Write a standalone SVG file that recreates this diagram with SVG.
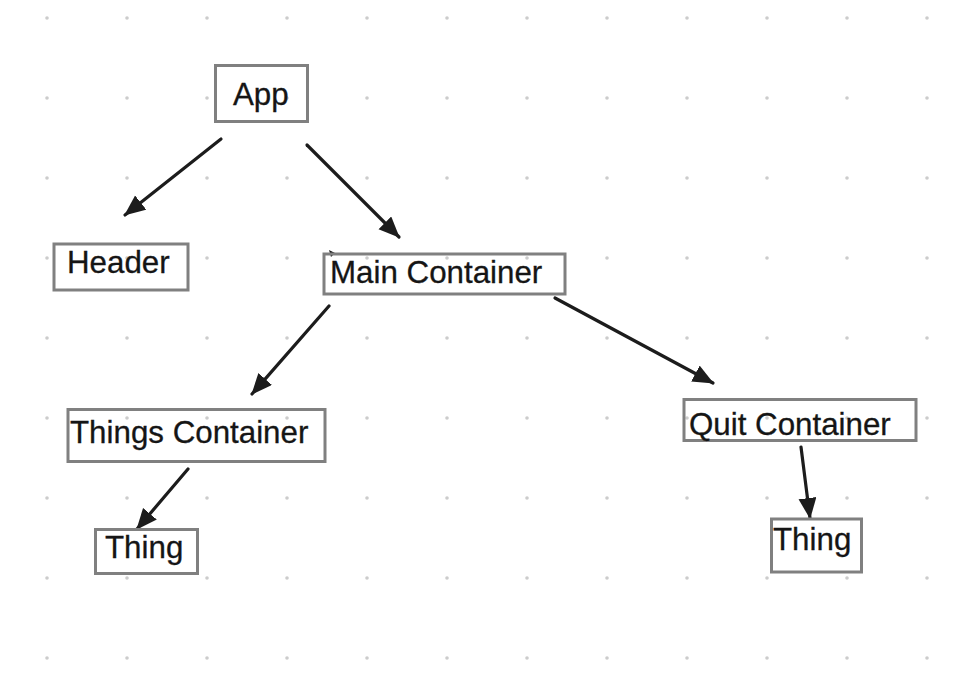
<svg xmlns="http://www.w3.org/2000/svg" width="968" height="686" viewBox="0 0 968 686">
<style>
.box{fill:none;stroke:#808080;stroke-width:3}
.lbl{font-family:"Liberation Sans",Arial,Helvetica,sans-serif;font-size:31.3px;fill:#151515;stroke:#151515;stroke-width:0.3}
.edge{stroke:#1c1c1c;stroke-width:3.2;fill:none;stroke-linecap:round}
</style>
<defs>
<pattern id="dots" patternUnits="userSpaceOnUse" x="7" y="-22" width="80" height="80">
<circle cx="40" cy="40" r="1.8" fill="#cccccc"/>
</pattern>
<marker id="arr" markerUnits="userSpaceOnUse" markerWidth="24" markerHeight="20" refX="20" refY="9" orient="auto">
<path d="M0,0 L21,9 L0,18 Z" fill="#1c1c1c"/>
</marker>
</defs>
<rect width="968" height="686" fill="#ffffff"/>
<rect width="968" height="686" fill="url(#dots)"/>
<g id="connectors">
<line class="edge" x1="221" y1="139" x2="125" y2="215" marker-end="url(#arr)"/>
<line class="edge" x1="307" y1="145" x2="399" y2="237" marker-end="url(#arr)"/>
<line class="edge" x1="329" y1="306" x2="252" y2="394" marker-end="url(#arr)"/>
<line class="edge" x1="555" y1="298" x2="713" y2="383" marker-end="url(#arr)"/>
<line class="edge" x1="188" y1="469" x2="137" y2="529" marker-end="url(#arr)"/>
<line class="edge" x1="801" y1="447" x2="810" y2="518" marker-end="url(#arr)"/>
<path d="M329,250 L335,253 L331,257 Z" fill="#1c1c1c"/>
</g>
<g id="app"><rect class="box" x="215.5" y="65.5" width="92" height="56"/><text class="lbl" x="233" y="105">App</text></g>
<g id="header"><rect class="box" x="54" y="244" width="134" height="46"/><text class="lbl" x="67" y="273">Header</text></g>
<g id="main-container"><rect class="box" x="324" y="254" width="241" height="40"/><text class="lbl" x="330" y="283">Main Container</text></g>
<g id="things-container"><rect class="box" x="68" y="409.5" width="257" height="52"/><text class="lbl" x="70" y="443">Things Container</text></g>
<g id="thing-left"><rect class="box" x="95.5" y="529.5" width="102" height="44"/><text class="lbl" x="105" y="558">Thing</text></g>
<g id="quit-container"><rect class="box" x="684" y="399.5" width="232" height="41"/><text class="lbl" x="689" y="435">Quit Container</text></g>
<g id="thing-right"><rect class="box" x="771.5" y="519" width="90" height="53"/><text class="lbl" x="773" y="550">Thing</text></g>
</svg>
